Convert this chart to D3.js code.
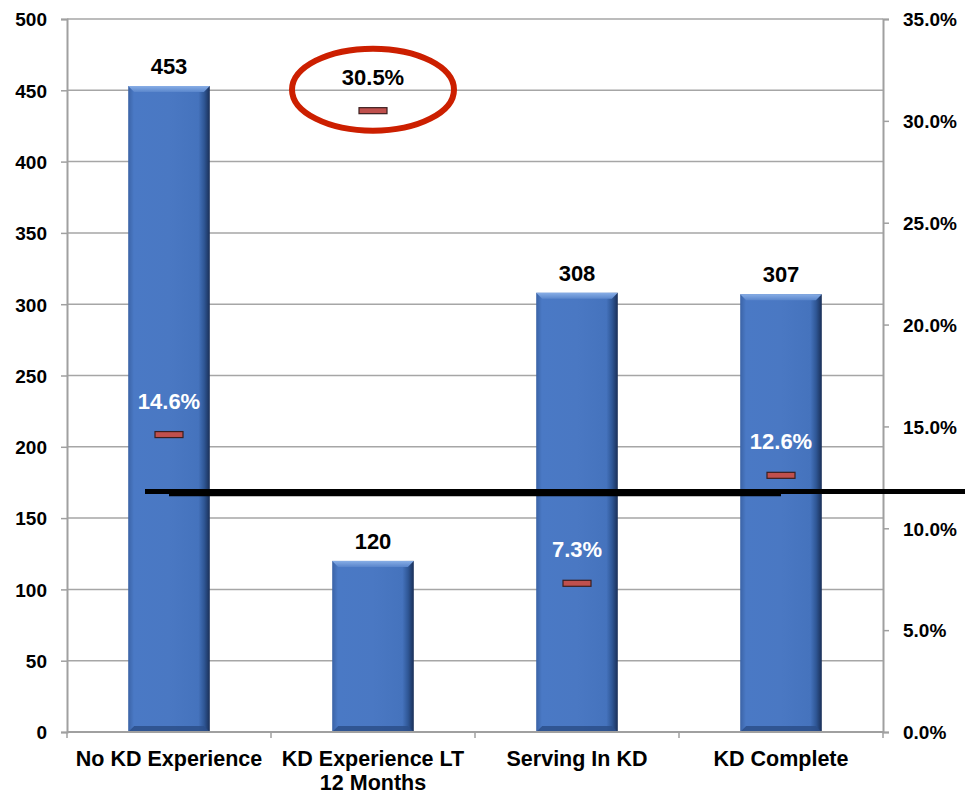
<!DOCTYPE html>
<html>
<head>
<meta charset="utf-8">
<script src="https://cdn.jsdelivr.net/npm/d3@7"></script>
<style>
  html, body { margin: 0; padding: 0; background: #ffffff; }
  svg { display: block; font-family: "Liberation Sans", Arial, sans-serif; font-weight: bold; }
</style>
</head>
<body>
<svg id="chart" width="965" height="795"></svg>
<script>
// Categories (multi-line labels split on "\n")
const categories = ["No KD Experience", "KD Experience LT\n12 Months", "Serving In KD", "KD Complete"];
// Head count per category (left axis)
const counts = [453, 120, 308, 307];
// Rate per category, percent (right axis)
const rates = [14.6, 30.5, 7.3, 12.6];
// Overall reference rates, percent (right axis): full-width line and category-span line
const referenceRates = [11.8, 11.7];
// Tick values
const leftTicks = d3.range(0, 501, 50);
const rightTicks = d3.range(0, 35.01, 5);
// Category whose rate is highlighted with a ring
const highlighted = "KD Experience LT\n12 Months";

const W = 965, H = 795;
const plot = { left: 67, right: 883, top: 19, bottom: 732 };

const svg = d3.select("#chart");

const x = d3.scaleBand().domain(categories).range([plot.left, plot.right]).paddingInner(0).paddingOuter(0);
const yL = d3.scaleLinear().domain([0, 500]).range([plot.bottom, plot.top]);
const yR = d3.scaleLinear().domain([0, 35]).range([plot.bottom, plot.top]);
const barW = x.bandwidth() * 0.4;
const cx = c => x(c) + x.bandwidth() / 2;

// Gradients for bevelled bars
const defs = svg.append("defs");
const gBody = defs.append("linearGradient").attr("id", "barBody").attr("x1", 0).attr("x2", 1).attr("y1", 0).attr("y2", 0);
[[0, "#3b63a6"], [0.07, "#4a79c5"], [0.5, "#4a78c3"], [0.86, "#4573bd"], [0.93, "#2f5796"], [1, "#1a2f57"]]
  .forEach(([o, c]) => gBody.append("stop").attr("offset", o).attr("stop-color", c));
const gTop = defs.append("linearGradient").attr("id", "barTop").attr("x1", 0).attr("x2", 0).attr("y1", 0).attr("y2", 1);
[[0, "#88aee6"], [1, "#5a86cc"]].forEach(([o, c]) => gTop.append("stop").attr("offset", o).attr("stop-color", c));

// Gridlines
svg.append("g").selectAll("line").data(leftTicks.filter(d => d > 0)).join("line")
  .attr("x1", plot.left).attr("x2", plot.right)
  .attr("y1", d => yL(d)).attr("y2", d => yL(d))
  .attr("stroke", "#a6a6a6").attr("stroke-width", 1.5);

// Left axis
const leftAxis = svg.append("g").attr("transform", `translate(${plot.left},0)`)
  .call(d3.axisLeft(yL).tickValues(leftTicks).tickSize(6).tickPadding(14).tickFormat(d3.format("d")));
leftAxis.select(".domain").attr("stroke", "#a0a0a0").attr("stroke-width", 2);
leftAxis.selectAll(".tick line").attr("stroke", "#a0a0a0").attr("stroke-width", 1.5);
leftAxis.selectAll(".tick text").attr("font-size", 19).attr("font-weight", "bold").attr("fill", "#000")
  .attr("font-family", "Liberation Sans, Arial, sans-serif").attr("dy", "0.36em");

// Right axis
const rightAxis = svg.append("g").attr("transform", `translate(${plot.right},0)`)
  .call(d3.axisRight(yR).tickValues(rightTicks).tickSize(6).tickPadding(14).tickFormat(d => d.toFixed(1) + "%"));
rightAxis.select(".domain").attr("stroke", "#a0a0a0").attr("stroke-width", 2);
rightAxis.selectAll(".tick line").attr("stroke", "#a0a0a0").attr("stroke-width", 1.5);
rightAxis.selectAll(".tick text").attr("font-size", 19).attr("font-weight", "bold").attr("fill", "#000")
  .attr("font-family", "Liberation Sans, Arial, sans-serif").attr("dy", "0.36em");

// Bars
const bars = svg.append("g").selectAll("g").data(categories).join("g");
bars.append("rect")
  .attr("x", c => cx(c) - barW / 2).attr("width", barW)
  .attr("y", (c, i) => yL(counts[i])).attr("height", (c, i) => yL(0) - yL(counts[i]))
  .attr("fill", "url(#barBody)");
// top bevel
const bev = 6;
bars.append("polygon")
  .attr("points", (c, i) => {
    const l = cx(c) - barW / 2, r = cx(c) + barW / 2, t = yL(counts[i]);
    return [[l, t], [r, t], [r - bev, t + bev], [l + bev, t + bev]].map(p => p.join(",")).join(" ");
  })
  .attr("fill", "url(#barTop)");
// bottom bevel
bars.append("polygon")
  .attr("points", c => {
    const l = cx(c) - barW / 2, r = cx(c) + barW / 2, b = yL(0);
    return [[l, b], [r, b], [r - bev, b - bev], [l + bev, b - bev]].map(p => p.join(",")).join(" ");
  })
  .attr("fill", "#2c4f8a").attr("opacity", 0.85);

// Baseline
svg.append("line").attr("x1", plot.left).attr("x2", plot.right)
  .attr("y1", yL(0)).attr("y2", yL(0)).attr("stroke", "#a0a0a0").attr("stroke-width", 2);
// Category boundary ticks
svg.append("g").selectAll("line").data(d3.range(categories.length + 1)).join("line")
  .attr("x1", i => plot.left + i * x.bandwidth()).attr("x2", i => plot.left + i * x.bandwidth())
  .attr("y1", yL(0)).attr("y2", yL(0) + 6)
  .attr("stroke", "#a0a0a0").attr("stroke-width", 1.5);

// Count labels
svg.append("g").selectAll("text").data(categories).join("text")
  .attr("x", c => cx(c)).attr("y", (c, i) => yL(counts[i]) - 12)
  .attr("text-anchor", "middle").attr("font-size", 22).attr("fill", "#000")
  .text((c, i) => counts[i]);

// Reference lines
svg.append("line")
  .attr("x1", cx(categories[0]) - 24).attr("x2", W)
  .attr("y1", yR(referenceRates[0])).attr("y2", yR(referenceRates[0]))
  .attr("stroke", "#000").attr("stroke-width", 5);
svg.append("line")
  .attr("x1", cx(categories[0])).attr("x2", cx(categories[categories.length - 1]))
  .attr("y1", yR(referenceRates[1])).attr("y2", yR(referenceRates[1]))
  .attr("stroke", "#000").attr("stroke-width", 5);

// Rate markers
svg.append("g").selectAll("rect").data(categories).join("rect")
  .attr("x", c => cx(c) - 14).attr("width", 28)
  .attr("y", (c, i) => yR(rates[i]) - 3).attr("height", 6)
  .attr("fill", "#c0504d").attr("stroke", "#3b1e1e").attr("stroke-width", 1.2);

// Rate labels
svg.append("g").selectAll("text").data(categories).join("text")
  .attr("x", c => cx(c)).attr("y", (c, i) => yR(rates[i]) - 26)
  .attr("text-anchor", "middle").attr("font-size", 22)
  .attr("fill", c => c === highlighted ? "#000" : "#ffffff")
  .text((c, i) => rates[i].toFixed(1) + "%");

// Highlight ring around the selected rate
const hi = categories.indexOf(highlighted);
svg.append("ellipse")
  .attr("cx", cx(highlighted)).attr("cy", yR(rates[hi]) - 21)
  .attr("rx", 81).attr("ry", 41)
  .attr("fill", "none").attr("stroke", "#cc1f00").attr("stroke-width", 6);

// Category labels
const catLabels = svg.append("g").selectAll("text").data(categories).join("text")
  .attr("x", c => cx(c)).attr("y", 766)
  .attr("text-anchor", "middle").attr("font-size", 21.5).attr("fill", "#000");
catLabels.selectAll("tspan").data(c => c.split("\n")).join("tspan")
  .attr("x", function () { return d3.select(this.parentNode).attr("x"); })
  .attr("dy", (d, i) => i === 0 ? 0 : 24)
  .text(d => d);
</script>
</body>
</html>
